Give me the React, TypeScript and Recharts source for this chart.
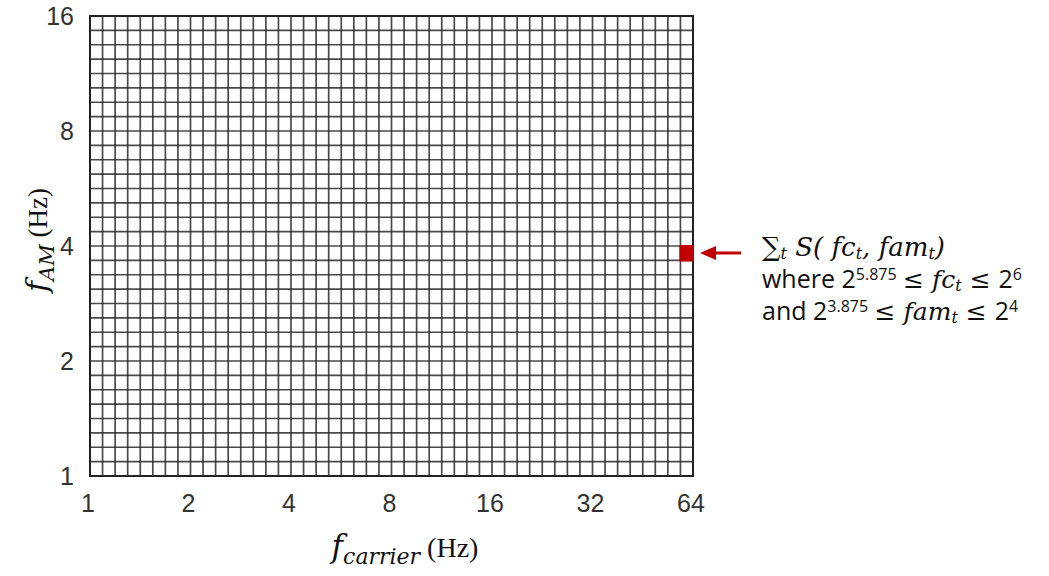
import React from "react";
import { ComposedChart, XAxis, YAxis, CartesianGrid, ReferenceArea } from "recharts";

// octave positions (log2 of frequency)
const xOctaves = [0, 1, 2, 3, 4, 5, 6];
const xTickLabels = ["1", "2", "4", "8", "16", "32", "64"];
const yOctaves = [0, 1, 2, 3, 4];
const yTickLabels = ["1", "2", "4", "8", "16"];
const binsPerOctave = 8;
// highlighted bin (log2 units)
const highlightX = [5.875, 6];
const highlightY = [1.875, 2];

const xGridTicks = Array.from({ length: 6 * binsPerOctave + 1 }, (_, i) => i / binsPerOctave);
const yGridTicks = Array.from({ length: 4 * binsPerOctave + 1 }, (_, i) => i / binsPerOctave);

const labelFor = (octaves: number[], labels: string[], v: number) => {
  const idx = octaves.findIndex((o) => Math.abs(o - v) < 1e-9);
  return idx >= 0 ? labels[idx] : "";
};

const tickFont: React.CSSProperties = { fontFamily: "'Liberation Sans', Arial, sans-serif", fontSize: 25 };

const XTick = (props: any) => {
  const { x, y, payload } = props;
  const t = labelFor(xOctaves, xTickLabels, payload.value);
  if (!t) return null;
  return (
    <text x={x - 2} y={y + 28} textAnchor="middle" fill="#333" style={tickFont}>
      {t}
    </text>
  );
};

const YTick = (props: any) => {
  const { y, payload } = props;
  const t = labelFor(yOctaves, yTickLabels, payload.value);
  if (!t) return null;
  return (
    <text x={74} y={y + 9} textAnchor="end" fill="#333" style={tickFont}>
      {t}
    </text>
  );
};

const math: React.CSSProperties = { fontFamily: "'DejaVu Serif', 'Liberation Serif', serif", fontStyle: "italic" };
const sans: React.CSSProperties = { fontFamily: "'Open Sans', 'Noto Sans', sans-serif" };
const sub: React.CSSProperties = { fontSize: 16, position: "relative", top: 3, verticalAlign: "baseline", lineHeight: 0 };
const sup: React.CSSProperties = { fontSize: 16, position: "relative", top: -8, verticalAlign: "baseline", lineHeight: 0 };

export default function App() {
  return (
    <div style={{ position: "absolute", left: 0, top: 0, width: 1049, height: 576, background: "#fff" }}>
      <ComposedChart
        width={1049}
        height={576}
        data={[{ x: 0, y: 0 }]}
        margin={{ top: 16, right: 356, left: 0, bottom: 0 }}
      >
        <CartesianGrid stroke="#2a2a2a" strokeWidth={1.7} strokeOpacity={0.85} />
        <XAxis
          type="number"
          dataKey="x"
          domain={[0, 6]}
          ticks={xGridTicks}
          interval={0}
          tickLine={false}
          axisLine={false}
          tick={<XTick />}
          height={100}
          allowDataOverflow
        />
        <YAxis
          type="number"
          dataKey="y"
          domain={[0, 4]}
          ticks={yGridTicks}
          interval={0}
          tickLine={false}
          axisLine={false}
          tick={<YTick />}
          width={90}
          allowDataOverflow
        />
        <ReferenceArea x1={0} x2={6} y1={0} y2={4} fill="none" stroke="#222" strokeWidth={2} ifOverflow="visible" />
        <ReferenceArea
          x1={highlightX[0]}
          x2={highlightX[1]}
          y1={highlightY[0]}
          y2={highlightY[1]}
          fill="#c00000"
          fillOpacity={1}
          stroke="#c00000"
          strokeWidth={2}
          ifOverflow="visible"
        />
      </ComposedChart>

      {/* arrow */}
      <svg style={{ position: "absolute", left: 0, top: 0, pointerEvents: "none" }} width={1049} height={576}>
        <line x1={741} y1={253} x2={712} y2={253} stroke="#c00000" strokeWidth={3} />
        <polygon points="700,253 716,246 716,260" fill="#c00000" />
      </svg>

      {/* y axis label */}
      <div
        style={{
          position: "absolute",
          left: 36,
          top: 240,
          transform: "translate(-50%, -50%) rotate(-90deg)",
          whiteSpace: "nowrap",
          fontFamily: "'Liberation Serif', serif",
          fontSize: 27,
          color: "#111",
        }}
      >
        <span style={{ ...math, fontSize: 30 }}>f</span>
        <span style={{ ...math, fontSize: 21, position: "relative", top: 7 }}>AM</span> (Hz)
      </div>

      {/* x axis label */}
      <div
        style={{
          position: "absolute",
          left: 405,
          top: 546,
          transform: "translate(-50%, -50%)",
          whiteSpace: "nowrap",
          fontFamily: "'Liberation Serif', serif",
          fontSize: 28,
          color: "#111",
        }}
      >
        <span style={{ ...math, fontSize: 31 }}>f</span>
        <span style={{ ...math, fontSize: 22, position: "relative", top: 7 }}>carrier</span> (Hz)
      </div>

      {/* annotation */}
      <div style={{ position: "absolute", left: 762, top: 232, color: "#111", fontSize: 25, lineHeight: "31px", whiteSpace: "nowrap" }}>
        <div style={{ ...math, fontSize: 26 }}>
          <span style={{ fontStyle: "normal" }}>∑</span>
          <span style={sub}>t</span> S( fc<span style={sub}>t</span>, fam<span style={sub}>t</span>)
        </div>
        <div style={sans}>
          where 2<span style={sup}>5.875</span> <span style={math}>≤ fc<span style={sub}>t</span> ≤ </span>2
          <span style={sup}>6</span>
        </div>
        <div style={sans}>
          and 2<span style={sup}>3.875</span> <span style={math}>≤ fam<span style={sub}>t</span> ≤ </span>2
          <span style={sup}>4</span>
        </div>
      </div>
    </div>
  );
}
